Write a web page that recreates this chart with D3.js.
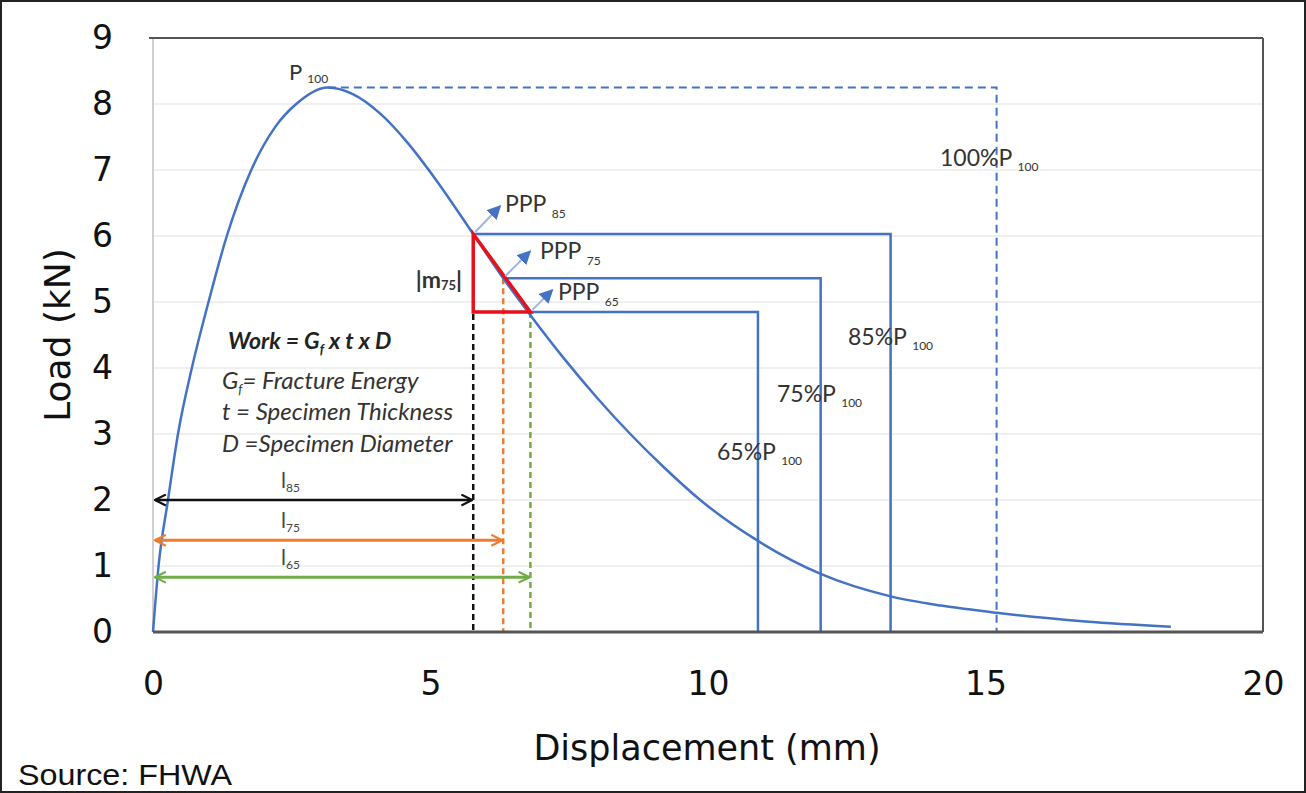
<!DOCTYPE html>
<html><head><meta charset="utf-8">
<script src="https://cdn.jsdelivr.net/npm/d3@7"></script>
<style>html,body{margin:0;padding:0;background:#fff}svg{display:block}</style>
</head><body>
<svg id="c" width="1306" height="793"></svg>
<script>
// ---- data ----
const curveX = [0, 0.1, 0.27, 0.45, 0.7, 1.0, 1.33, 1.77, 2.2, 2.58, 3.15, 3.6, 4.1, 4.6, 5.1, 5.77, 6.31, 6.8, 7.4, 8.0, 8.6, 9.2, 9.86, 10.9, 12.03, 13.29, 14.2, 15.2, 16.8, 18.34];
const curveY = [0, 1.0, 2.0, 3.0, 4.0, 5.0, 6.0, 7.0, 7.65, 8.0, 8.25, 8.15, 7.85, 7.4, 6.85, 6.03, 5.36, 4.8, 4.15, 3.55, 3.0, 2.5, 2.0, 1.38, 0.88, 0.54, 0.4, 0.29, 0.16, 0.08];
const levelNames = ["85", "75", "65"];
const levelX = [5.77, 6.31, 6.8];
const levelY = [6.03, 5.36, 4.85];
const levelEndX = [13.29, 12.03, 10.9];
const peakX = 3.15, peakY = 8.25, peakEndX = 15.2;
const lengthY = [2.0, 1.39, 0.83];
const lengthColors = ["#111111", "#ED7D31", "#70AD47"];
const xTicks = [0, 5, 10, 15, 20];
const yTicks = [0, 1, 2, 3, 4, 5, 6, 7, 8, 9];

// ---- setup ----
const svg = d3.select("#c");
const x = d3.scaleLinear().domain([0, 20]).range([153, 1263]);
const y = d3.scaleLinear().domain([0, 9]).range([632, 38]);
const BLUE = "#4472C4";
const TXT = "#333";
const annFont = "Lato, 'Open Sans', sans-serif";
const axFont = "'DejaVu Sans', sans-serif";

svg.append("rect").attr("x", 1).attr("y", 1).attr("width", 1304).attr("height", 791)
  .attr("fill", "#fff").attr("stroke", "#222").attr("stroke-width", 2);

const defs = svg.append("defs");
lengthColors.forEach((c, i) => {
  defs.append("marker").attr("id", "ae" + i).attr("viewBox", "0 0 12 12").attr("refX", 11).attr("refY", 6)
    .attr("markerWidth", 13).attr("markerHeight", 13).attr("markerUnits", "userSpaceOnUse").attr("orient", "auto-start-reverse")
    .append("path").attr("d", "M1,1 L11,6 L1,11").attr("fill", "none").attr("stroke", c).attr("stroke-width", 2);
});
defs.append("marker").attr("id", "tri").attr("viewBox", "0 0 10 10").attr("refX", 9).attr("refY", 5)
  .attr("markerWidth", 14).attr("markerHeight", 14).attr("markerUnits", "userSpaceOnUse").attr("orient", "auto")
  .append("path").attr("d", "M0,0 L10,5 L0,10 Z").attr("fill", BLUE);

// gridlines
svg.append("g").selectAll("line").data(yTicks.filter(d => d > 0 && d < 9)).join("line")
  .attr("x1", x(0)).attr("x2", x(20)).attr("y1", d => y(d)).attr("y2", d => y(d))
  .attr("stroke", "#ebebeb").attr("stroke-width", 1.5);

// frame
svg.append("line").attr("x1", x(0)).attr("x2", x(0)).attr("y1", y(9)).attr("y2", y(0)).attr("stroke", "#d0d0d0").attr("stroke-width", 2);
svg.append("line").attr("x1", x(0) - 4).attr("x2", x(20)).attr("y1", y(9)).attr("y2", y(9)).attr("stroke", "#555").attr("stroke-width", 2);
svg.append("line").attr("x1", x(20)).attr("x2", x(20)).attr("y1", y(9)).attr("y2", y(0)).attr("stroke", "#555").attr("stroke-width", 2);

// axes tick labels
const xAxis = d3.axisBottom(x).tickValues(xTicks).tickSize(0).tickPadding(40).tickFormat(d3.format("d"));
const gx = svg.append("g").attr("transform", `translate(0,${y(0)})`).call(xAxis);
gx.select(".domain").remove();
gx.selectAll("text").attr("font-family", axFont).attr("font-size", 33).attr("fill", "#111");
const yAxis = d3.axisLeft(y).tickValues(yTicks).tickSize(0).tickPadding(40).tickFormat(d3.format("d"));
const gy = svg.append("g").attr("transform", `translate(${x(0)},0)`).call(yAxis);
gy.select(".domain").remove();
gy.selectAll("text").attr("font-family", axFont).attr("font-size", 33).attr("fill", "#111");

svg.append("text").attr("x", 707).attr("y", 760).attr("text-anchor", "middle")
  .attr("font-family", axFont).attr("font-size", 35).attr("fill", "#111").text("Displacement (mm)");
svg.append("text").attr("transform", "translate(70,335) rotate(-90)").attr("text-anchor", "middle")
  .attr("font-family", axFont).attr("font-size", 36).attr("fill", "#111").text("Load (kN)");
svg.append("text").attr("x", 18).attr("y", 785).attr("font-family", "'Liberation Sans', Arial, sans-serif")
  .attr("font-size", 30).attr("fill", "#111").attr("textLength", 214).attr("lengthAdjust", "spacingAndGlyphs").text("Source: FHWA");

// dashed P100 line
svg.append("path").attr("d", d3.line()([[x(peakX), y(peakY)], [x(peakEndX), y(peakY)], [x(peakEndX), y(0)]]))
  .attr("fill", "none").attr("stroke", BLUE).attr("stroke-width", 2).attr("stroke-dasharray", "8,5");

// level rectangles
levelNames.forEach((n, i) => {
  svg.append("path").attr("d", d3.line()([[x(levelX[i]), y(levelY[i])], [x(levelEndX[i]), y(levelY[i])], [x(levelEndX[i]), y(0)]]))
    .attr("fill", "none").attr("stroke", BLUE).attr("stroke-width", 2.5);
});

// vertical dashed projections
lengthColors.forEach((c, i) => {
  svg.append("line").attr("x1", x(levelX[i])).attr("x2", x(levelX[i])).attr("y1", y(levelY[i])).attr("y2", y(0))
    .attr("stroke", c).attr("stroke-width", 2.5).attr("stroke-dasharray", "6,4");
});

// curve
const pts = curveX.map((d, i) => [d, curveY[i]]);
svg.append("path").datum(pts)
  .attr("d", d3.line().x(d => x(d[0])).y(d => y(d[1])).curve(d3.curveMonotoneX))
  .attr("fill", "none").attr("stroke", BLUE).attr("stroke-width", 2.5);

// bottom axis line
svg.append("line").attr("x1", x(0)).attr("x2", x(20)).attr("y1", y(0)).attr("y2", y(0)).attr("stroke", "#555").attr("stroke-width", 3);

// red triangle
svg.append("path").attr("d", d3.line()([[x(levelX[0]), y(levelY[0])], [x(levelX[0]), y(levelY[2])], [x(levelX[2]), y(levelY[2])]]) + "Z")
  .attr("fill", "none").attr("stroke", "#E8111A").attr("stroke-width", 3.5).attr("stroke-linejoin", "miter");

// length arrows
lengthColors.forEach((c, i) => {
  svg.append("line").attr("x1", x(0) + 2).attr("x2", x(levelX[i]) - 1).attr("y1", y(lengthY[i])).attr("y2", y(lengthY[i]))
    .attr("stroke", c).attr("stroke-width", i === 0 ? 2.5 : 3)
    .attr("marker-start", `url(#ae${i})`).attr("marker-end", `url(#ae${i})`);
  const t = svg.append("text").attr("x", 281).attr("y", y(lengthY[i]) - 12).attr("font-family", annFont).attr("font-size", 21).attr("fill", "#444");
  t.append("tspan").text("l");
  t.append("tspan").attr("font-size", 12).attr("dy", 4).text(levelNames[i]);
});

// PPP arrows and labels
const pppDx = [27, 27, 22], pppDy = [-28, -27, -22];
const pppLabelX = [505, 540, 558], pppLabelY = [212, 259, 300];
levelNames.forEach((n, i) => {
  const px = x(levelX[i]), py = y(levelY[i]);
  svg.append("line").attr("x1", px + 2).attr("y1", py - 2).attr("x2", px + pppDx[i]).attr("y2", py + pppDy[i])
    .attr("stroke", "#9DB5E0").attr("stroke-width", 2).attr("marker-end", "url(#tri)");
  const t = svg.append("text").attr("x", pppLabelX[i]).attr("y", pppLabelY[i]).attr("font-family", annFont).attr("font-size", 23).attr("fill", TXT);
  t.append("tspan").text("PPP ");
  t.append("tspan").attr("font-size", 12).attr("dy", 6).text(n);
});

// percent labels
const pctNames = ["100", "85", "75", "65"];
const pctX = [940, 848, 777, 717], pctY = [166, 345, 402, 460];
pctNames.forEach((n, i) => {
  const t = svg.append("text").attr("x", pctX[i]).attr("y", pctY[i]).attr("font-family", annFont).attr("font-size", 23).attr("fill", TXT);
  t.append("tspan").text(n + "%P ");
  t.append("tspan").attr("font-size", 12).attr("dy", 5).text("100");
});

// P100 label
const tp = svg.append("text").attr("x", 289).attr("y", 80).attr("font-family", annFont).attr("font-size", 22).attr("fill", TXT);
tp.append("tspan").text("P ");
tp.append("tspan").attr("font-size", 12).attr("dy", 3).text("100");

// |m75|
const tm = svg.append("text").attr("x", 462).attr("y", 288).attr("text-anchor", "end").attr("font-family", annFont)
  .attr("font-size", 23).attr("font-weight", 700).attr("fill", TXT);
tm.append("tspan").text("|m");
tm.append("tspan").attr("font-size", 13).attr("dy", 2).text("75");
tm.append("tspan").attr("dy", -2).text("|");

// Work formula block
const wk = svg.append("text").attr("x", 228).attr("y", 349).attr("font-family", annFont).attr("font-size", 23)
  .attr("font-style", "italic").attr("font-weight", 700).attr("fill", "#222");
wk.append("tspan").text("Work = G");
wk.append("tspan").attr("font-size", 13).attr("dy", 5).text("f");
wk.append("tspan").attr("dy", -5).text(" x t x D");

const lines = [["G", "f", "= Fracture Energy"], ["t = Specimen Thickness"], ["D =Specimen Diameter"]];
const lineY = [389, 420, 452];
lines.forEach((l, i) => {
  const t = svg.append("text").attr("x", 222).attr("y", lineY[i]).attr("font-family", annFont).attr("font-size", 24)
    .attr("font-style", "italic").attr("fill", TXT);
  if (l.length === 3) {
    t.append("tspan").text(l[0]);
    t.append("tspan").attr("font-size", 13).attr("dy", 5).text(l[1]);
    t.append("tspan").attr("dy", -5).text(l[2]);
  } else t.append("tspan").text(l[0]);
});
</script>
</body></html>
